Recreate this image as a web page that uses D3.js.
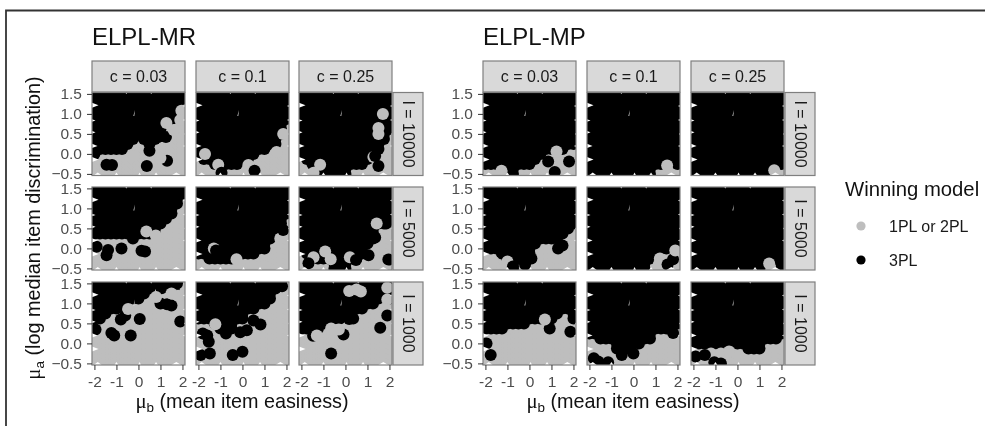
<!DOCTYPE html>
<html><head><meta charset="utf-8">
<script src="https://cdn.jsdelivr.net/npm/d3@7/dist/d3.min.js"></script>
<style>
html,body{margin:0;padding:0;background:#fff;overflow:hidden}
svg{display:block;filter:blur(0.5px)}
text{font-family:"Liberation Sans",Arial,sans-serif}
</style></head><body><svg id="c" width="985" height="426"></svg>
<script>
const cLevels=["c = 0.03","c = 0.1","c = 0.25"];
const iLevels=["I = 10000","I = 5000","I = 1000"];
const facetTitles=["ELPL-MR","ELPL-MP"];
const xTicks=[-2,-1,0,1,2];
const yTicks=[-0.5,0,0.5,1,1.5];
const legendLabels=["1PL or 2PL","3PL"];
const muBGrid=[-2,-1.75,-1.5,-1.25,-1,-.75,-.5,-.25,0,.25,.5,.75,1,1.25,1.5,1.75,2];
const muAGrid=[-.5,-.375,-.25,-.125,0,.125,.25,.375,.5,.625,.75,.875,1,1.125,1.25,1.375,1.5];
// Lower edge of the 3PL region read at each muBGrid value (rows I=10000,5000,1000; cols c)
const boundaryMR=[
 [-.15,-.1,-.05,0,0,0,.02,.2,.35,.15,.05,.25,.4,.7,.75,1,1.15],
 [-.15,-.25,-.3,-.4,-.45,-.45,-.42,-.4,-.3,-.3,-.15,-.05,0,.05,.1,.3,.7],
 [-.2,-.35,-.45,-.45,-.65,-.65,-.65,-.65,-.65,-.45,-.42,-.42,-.3,-.2,-.05,.15,.45],
 [.2,.2,.2,.18,.2,.2,.15,.12,.15,.2,.22,.25,.5,.6,.75,.95,1.15],
 [-.35,-.35,-.45,-.45,-.45,-.42,-.4,-.35,-.35,-.3,-.28,-.2,-.15,.05,.3,.4,.7],
 [-.2,-.3,-.35,-.4,-.45,-.48,-.65,-.65,-.65,-.45,-.4,-.3,-.1,.1,.4,.5,.55],
 [.4,.5,.55,.65,.75,.8,.9,1,1,1.05,1.2,1.3,1.3,1.35,1.4,1.35,1.4],
 [.5,.45,.4,.3,.15,.12,.25,.4,.5,.65,.75,.8,.85,1,1.2,1.3,1.45],
 [.2,.2,.2,.25,.3,.35,.4,.45,.55,.7,.75,.75,.8,.85,.9,1.05,1]
];
const boundaryMP=[
 [-.45,-.47,-.45,-.42,-.45,-.65,-.4,-.38,-.4,-.3,-.12,-.1,0,.02,0,.02,.05],
 [-.65,-.65,-.65,-.65,-.65,-.65,-.65,-.65,-.65,-.65,-.65,-.65,-.48,-.42,-.2,-.35,-.48],
 [-.65,-.65,-.65,-.65,-.65,-.65,-.65,-.65,-.65,-.65,-.65,-.65,-.65,-.65,-.48,-.4,-.48],
 [-.22,-.2,-.2,-.3,-.45,-.65,-.45,-.35,-.25,-.05,.1,.05,.02,.12,.2,.28,.4],
 [-.65,-.65,-.65,-.65,-.65,-.65,-.65,-.65,-.65,-.65,-.65,-.48,-.3,-.15,-.2,-.1,-.05],
 [-.65,-.65,-.65,-.65,-.65,-.65,-.65,-.65,-.65,-.65,-.65,-.65,-.65,-.45,-.25,-.42,-.65],
 [.2,.15,.2,.25,.28,.3,.3,.35,.5,.48,.5,.55,.45,.55,.7,.65,.45],
 [.05,.02,-.05,0,-.1,-.25,-.3,-.3,-.2,-.12,-.05,0,.15,.2,.2,.38,.3],
 [-.13,-.15,-.2,-.12,-.15,-.15,-.12,-.1,-.18,-.22,-.3,-.3,-.25,-.1,-.08,-.08,.1]
];
// Individually visible dots, in drawing order: [muB, muA, winner] (0 = 1PL/2PL, 1 = 3PL)
const dotsMR=[
 [[-1.45,-.27,1],[-1.2,-.28,1],[.38,-.3,1],[1.3,-.17,1],[.9,.42,1],[1.25,.42,1],[.5,.08,1],[1.27,.77,0],[1.6,.6,0],[1.95,1.08,0],[1.9,.85,0],[-.2,-.05,0],[1,-.1,0]],
 [[-1.7,0,0],[-1.1,-.27,0],[.27,-.28,0],[.7,-.3,0],[1.55,.05,0],[1.85,.5,0],[.55,-.42,1],[-.95,-.47,1]],
 [[-1.15,-.27,0],[-1.45,-.47,0],[1.27,-.08,0],[1.5,.65,0],[1.5,.5,0],[1.78,.98,1],[1.7,1,0],[1.5,-.3,1],[1.35,-.05,1]],
 [[-1.9,.04,1],[-1.38,-.04,1],[-1.45,-.17,1],[-.77,0,1],[.14,-.06,1],[.3,-.08,1],[.36,.42,0],[.79,.32,0]],
 [[-1.3,0,0],[-1.2,-.05,1],[-.27,-.27,0],[.5,-.45,0],[1,-.45,0],[1.72,.25,0],[1.85,.46,1]],
 [[-1.45,-.22,0],[-.92,-.08,0],[-.67,-.27,0],[.2,-.22,0],[-1.68,-.37,1],[.48,-.29,1],[1.05,-.17,1],[1.35,.27,1],[1.85,.62,1],[1.42,.62,0],[1.85,-.2,0],[1.95,-.28,1]],
 [[-1.95,.35,1],[-1.23,.26,1],[-1.1,.2,1],[-.35,.2,1],[.06,.61,1],[1.9,.55,1],[-.6,.7,1],[-.8,.6,1],[1,1,1],[1.3,.98,1],[1.5,.95,1],[1.05,1.38,1],[1.35,1.4,1],[1.6,1.35,1],[-.47,.86,0],[.8,1.16,0],[1.8,1.19,0],[1.5,1.25,0]],
 [[-1.23,.48,0],[-1.53,.04,1],[-1.9,-.29,1],[-1.48,-.25,1],[-.44,-.29,1],[0,-.21,1],[.2,.33,1],[.82,.47,1],[.5,.57,1],[-.1,.28,1],[-1.8,.25,1],[-1.6,.2,1],[1.8,1.43,1]],
 [[-1.47,.19,1],[-1.3,.2,0],[-.65,.37,0],[-.09,.22,1],[-.3,.35,0],[.17,.61,1],[.35,.62,1],[1.58,.39,1],[-.65,-.25,1],[.17,1.31,0],[.5,1.35,0],[.7,1.3,0],[1.9,1.39,0],[1.9,1.1,0],[1.8,.85,0],[1.9,.7,1]]
];
const dotsMP=[
 [[1.23,.06,0],[.85,-.19,1],[1.8,-.19,1],[1.15,-.45,1],[-1.27,-.42,0]],
 [[1.53,-.29,0]],
 [[1.67,-.41,0]],
 [[-1.65,-.33,0],[-1,-.33,0],[-.75,-.45,1],[-.2,-.4,1],[.09,-.25,1],[1.3,0,1],[1.5,.07,1]],
 [[1.2,-.25,0],[1.15,-.4,0],[1.55,-.4,1],[1.8,-.27,1],[1.9,-.05,0]],
 [[1.44,-.38,0]],
 [[.92,.37,1],[1.86,.29,1],[-1.76,-.29,1],[-1.95,0,1],[.7,.6,0]],
 [[-1.3,-.2,0],[-1.8,-.37,1],[-1.6,-.45,1],[-1.15,-.47,1],[-.53,-.29,1],[0,-.25,1],[1.8,.26,1]],
 [[-1.2,-.25,0],[-.75,-.25,0],[-.38,-.2,0],[-1.9,-.33,1],[-1.48,-.29,1],[-1.05,-.47,1],[-.75,-.5,1]]
];
// White slivers the dots leave uncovered at the panel edges: [position, size in px]
const leftGaps=[[1.215,6.5],[.835,3.5],[.54,3.5],[.2,5.5],[-.14,6.5]];
const rightGaps=[[1.2,2],[.85,2],[.5,1],[.2,2]];
const bottomGaps=[[-1.85,8],[-1,4],[.05,3],[.8,4],[1.72,10]];
const topGaps=[[-.55,1.5],[.58,1.5]];
const innerGaps=[[-.2,1.02]];

const colX=[[92,196,299],[483,587,691]];
const panelW=93,panelH=83;
const rowY=[92.5,187,282];
const stripTopY=61,stripTopH=31;
const stripRightW=30;
const DOT=6,DOT_U=0.12;
const INK="#000000",GREY="#bebebe",TICK="#4d4d4d",EDGE="#7f7f7f";
const svg=d3.select("#c");

svg.append("path").attr("d","M6,426V10.5H985").attr("fill","none").attr("stroke","#333").attr("stroke-width",1.8);
const defs=svg.append("defs");

function panel(fi,r,c,boundary,dots){
  const x0=colX[fi][c],y0=rowY[r];
  const x=d3.scaleLinear().domain([-2.11,2.115]).range([x0,x0+panelW]);
  const y=d3.scaleLinear().domain([-.54,1.535]).range([y0+panelH,y0]);
  const id=`p${fi}${r}${c}`;
  defs.append("clipPath").attr("id",id).append("rect").attr("x",x0).attr("y",y0).attr("width",panelW).attr("height",panelH);
  const g=svg.append("g");
  const m=g.append("g").attr("clip-path",`url(#${id})`);
  m.append("rect").attr("x",x0).attr("y",y0).attr("width",panelW).attr("height",panelH).attr("fill","#fff");
  const base=[];
  muBGrid.forEach((b,i)=>muAGrid.forEach(a=>base.push([b,a,0])));
  muBGrid.forEach((b,i)=>muAGrid.forEach(a=>{if(a-DOT_U>=boundary[i])base.push([b,a,1]);}));
  const all=base.concat(dots);
  m.selectAll("circle").data(all).join("circle")
   .attr("cx",d=>x(d[0])).attr("cy",d=>y(d[1])).attr("r",DOT)
   .attr("fill",d=>d[2]?INK:GREY);
  const wedge=(px,py,s)=>{const h=Math.max(1,Math.abs(s)*.38);return `M${px},${py-h}L${px+s},${py}L${px},${py+h}Z`;};
  const gaps=m.append("g").attr("fill","#fff");
  leftGaps.forEach(d=>gaps.append("path").attr("d",wedge(x0,y(d[0]),d[1])));
  rightGaps.forEach(d=>gaps.append("path").attr("d",wedge(x0+panelW,y(d[0]),-d[1])));
  bottomGaps.forEach(d=>gaps.append("path").attr("d",`M${x(d[0])-d[1]/2},${y0+panelH}L${x(d[0])},${y0+panelH-3}L${x(d[0])+d[1]/2},${y0+panelH}Z`));
  topGaps.forEach(d=>gaps.append("path").attr("d",`M${x(d[0])-1},${y0}L${x(d[0])},${y0+d[1]}L${x(d[0])+1},${y0}Z`));
  innerGaps.forEach(d=>gaps.append("path").attr("d",`M${x(d[0])-.6},${y(d[1])+3}L${x(d[0])+.8},${y(d[1])-3}L${x(d[0])+.2},${y(d[1])+3}Z`));
  g.append("rect").attr("x",x0).attr("y",y0).attr("width",panelW).attr("height",panelH).attr("fill","none").attr("stroke",EDGE).attr("stroke-width",1.2);
  if(c===0){
    const ay=d3.axisLeft(y).tickValues(yTicks).tickSize(5).tickPadding(5);
    const a=svg.append("g").attr("transform",`translate(${x0},0)`).call(ay);
    a.select(".domain").remove();
    a.selectAll("line").attr("stroke","#333").attr("stroke-width",1);
    a.selectAll("text").attr("fill",TICK).attr("font-size",15.5).text(d=>d3.format(".1f")(d));
  }
  if(r===2){
    const ax=d3.axisBottom(x).tickValues(xTicks).tickSize(5).tickPadding(6).tickFormat(d=>String(d));
    const a=svg.append("g").attr("transform",`translate(0,${y0+panelH})`).call(ax);
    a.select(".domain").remove();
    a.selectAll("line").attr("stroke","#333").attr("stroke-width",1);
    a.selectAll("text").attr("fill",TICK).attr("font-size",15.5);
  }
}
function strips(fi){
  colX[fi].forEach((x0,c)=>{
    svg.append("rect").attr("x",x0).attr("y",stripTopY).attr("width",panelW).attr("height",stripTopH).attr("fill","#d9d9d9").attr("stroke",EDGE).attr("stroke-width",1.2);
    svg.append("text").attr("x",x0+panelW/2).attr("y",stripTopY+stripTopH/2+5.5).attr("text-anchor","middle").attr("font-size",16).attr("fill","#1a1a1a").text(cLevels[c]);
  });
  const rx=colX[fi][2]+panelW+1;
  rowY.forEach((y0,r)=>{
    svg.append("rect").attr("x",rx).attr("y",y0).attr("width",stripRightW).attr("height",panelH).attr("fill","#d9d9d9").attr("stroke",EDGE).attr("stroke-width",1.2);
    svg.append("text").attr("transform",`translate(${rx+stripRightW/2-5.5},${y0+panelH/2}) rotate(90)`).attr("text-anchor","middle").attr("font-size",16).attr("fill","#1a1a1a").text(iLevels[r]);
  });
  svg.append("text").attr("x",colX[fi][0]).attr("y",45).attr("font-size",24).attr("fill","#111").text(facetTitles[fi]);
}
[boundaryMR,boundaryMP].forEach((bs,fi)=>{
  const ds=fi?dotsMP:dotsMR;
  strips(fi);
  for(let r=0;r<3;r++)for(let c=0;c<3;c++)panel(fi,r,c,bs[r*3+c],ds[r*3+c]);
});
function mu(sel,sub,rest){
  sel.append("tspan").attr("font-family","'Liberation Serif',serif").attr("font-size","1.05em").text("μ");
  sel.append("tspan").attr("dy",".28em").attr("font-size",".68em").text(sub);
  sel.append("tspan").attr("dy","-.19em").text(rest);
}
const xt1=svg.append("text").attr("x",242).attr("y",408).attr("text-anchor","middle").attr("font-size",19.8).attr("fill","#111");
mu(xt1,"b"," (mean item easiness)");
const xt2=svg.append("text").attr("x",633).attr("y",408).attr("text-anchor","middle").attr("font-size",19.8).attr("fill","#111");
mu(xt2,"b"," (mean item easiness)");
const yt=svg.append("text").attr("transform","translate(40,228) rotate(-90)").attr("text-anchor","middle").attr("font-size",19.8).attr("fill","#111");
mu(yt,"a"," (log median item discrimination)");
svg.append("text").attr("x",845).attr("y",196).attr("font-size",20.3).attr("fill","#111").text("Winning model");
legendLabels.forEach((l,i)=>{
  const ly=[226,260][i];
  svg.append("circle").attr("cx",861).attr("cy",ly).attr("r",4.6).attr("fill",i?INK:GREY);
  svg.append("text").attr("x",889).attr("y",ly+5.5).attr("font-size",16).attr("fill","#1a1a1a").text(l);
});
</script></body></html>
